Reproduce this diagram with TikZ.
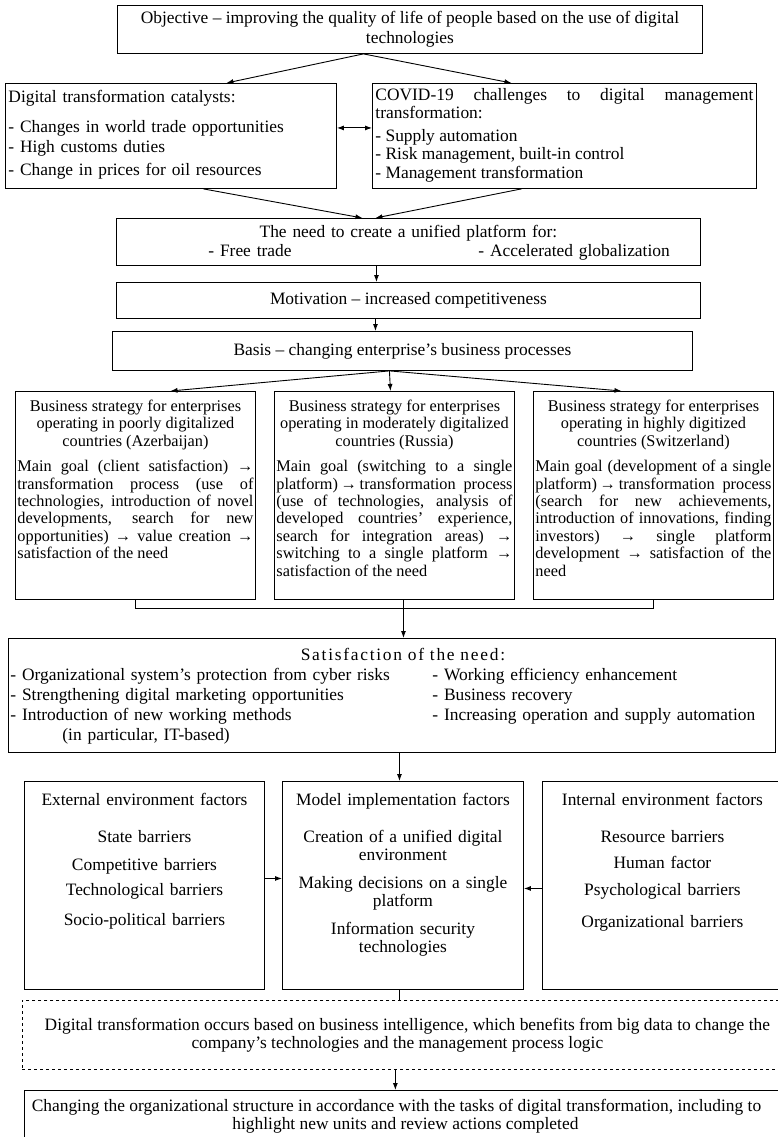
\documentclass[tikz,border=0pt]{standalone}
\usepackage{fontspec}
\setmainfont{Liberation Serif}
\usetikzlibrary{arrows,arrows.meta,positioning,calc}

\begin{document}
\begin{tikzpicture}[x=1pt, y=-1pt, line width=0.9pt, >={Latex[length=7pt,width=5pt]},
font=\fontsize{17.4}{18}\selectfont,
box/.style={rectangle, draw, anchor=north west, inner xsep=4pt, inner ysep=0pt},
flat/.style={box, align=center},
strat/.style={box, inner xsep=2pt, text width=236pt, text height=20pt, text depth=188pt, align=justify, font=\fontsize{16.3}{17.4}\selectfont},
factor/.style={box, text width=232pt, text height=24pt, text depth=184pt, align=center},
line/.style={draw, ->}]

\useasboundingbox (0,0) rectangle (778,1137);

% Nodes
\node[flat, minimum width=585pt, minimum height=48pt] (obj) at (117,5)
  {Objective -- improving the quality of life of people based on the use of digital\\[2pt] technologies};

\node[box, inner xsep=3pt, text width=325pt, text height=19pt, text depth=86pt, align=left] (cat) at (5,83)
  {Digital transformation catalysts:\\[12pt]
   - Changes in world trade opportunities\\[2pt]
   - High customs duties\\[5pt]
   - Change in prices for oil resources};

\node[box, inner xsep=3pt, text width=378pt, text height=17pt, text depth=88pt, align=justify] (cov) at (372,83)
  {COVID-19 challenges to digital management\linebreak transformation:\par\vspace{5pt}
   - Supply automation\\
   - Risk management, built-in control\\[1pt]
   - Management transformation};

\node[box, text width=576pt, text height=19pt, text depth=28pt, align=center] (need) at (116,218)
  {The need to create a unified platform for:\\[1pt]
   \makebox[\linewidth][l]{\hspace{88pt}\makebox[270pt][l]{- Free trade}- Accelerated globalization}};

\node[flat, minimum width=584pt, minimum height=36pt] (mot) at (116,282)
  {Motivation -- increased competitiveness};

\node[flat, minimum width=580pt, minimum height=39pt] (bas) at (112,331)
  {Basis -- changing enterprise's business processes};

\node[strat] (poor) at (15,391)
  {{\centering Business strategy for enterprises\\ operating in poorly digitalized\\ countries (Azerbaijan)\par}\vspace{8pt}
   Main goal (client satisfaction) →\linebreak transformation process (use of\linebreak technologies, introduction of novel\linebreak developments, search for new\linebreak opportunities) → value creation →\linebreak satisfaction of the need};

\node[strat] (mid) at (274,391)
  {{\centering Business strategy for enterprises\\ operating in moderately digitalized\\ countries (Russia)\par}\vspace{8pt}
   Main goal (switching to a single\linebreak platform)\,→\,transformation process\linebreak (use of technologies, analysis of\linebreak developed countries' experience,\linebreak search for integration areas) →\linebreak switching to a single platform →\linebreak satisfaction of the need};

\node[strat] (high) at (533,391)
  {{\centering Business strategy for enterprises\\ operating in highly digitized\\ countries (Switzerland)\par}\vspace{8pt}
   Main goal (development of a single\linebreak platform)\,→\,transformation process\linebreak (search for new achievements,\linebreak introduction of innovations, finding\linebreak investors) → single platform\linebreak development → satisfaction of the\linebreak need};

\node[box, inner xsep=2pt, text width=763pt, text height=22pt, text depth=92pt, align=left] (sat) at (8,638)
  {\makebox[\linewidth]{\hspace{22pt}\addfontfeature{LetterSpace=10}Satisfaction of the need:}\\[2pt]
   \makebox[422pt][l]{- Organizational system's protection from cyber risks}- Working efficiency enhancement\\[2pt]
   \makebox[422pt][l]{- Strengthening digital marketing opportunities}- Business recovery\\[2pt]
   \makebox[422pt][l]{- Introduction of new working methods}- Increasing operation and supply automation\\[2pt]
   \hspace*{52pt}(in particular, IT-based)};

\node[factor] (ext) at (24,781)
  {External environment factors\\[19pt]
   State barriers\\[10pt]
   Competitive barriers\\[7pt]
   Technological barriers\\[12pt]
   Socio-political barriers};

\node[factor, text width=233pt] (mod) at (282,781)
  {Model implementation factors\\[19pt]
   Creation of a unified digital\\ environment\\[10pt]
   Making decisions on a single\\ platform\\[10pt]
   Information security\\ technologies};

\node[factor] (int) at (542,781)
  {Internal environment factors\\[19pt]
   Resource barriers\\[8pt]
   Human factor\\[9pt]
   Psychological barriers\\[14pt]
   Organizational barriers};

\node[flat, dashed, line width=0.7pt, minimum width=770pt, minimum height=69pt] (bi) at (22,1000)
  {Digital transformation occurs based on business intelligence, which benefits from big data to change the\\
   \hspace*{-20pt}company's technologies and the management process logic};

\node[flat, minimum width=770pt, minimum height=52pt] (last) at (24,1090)
  {\hspace*{-26pt}Changing the organizational structure in accordance with the tasks of digital transformation, including to\\
   \hspace*{-8pt}highlight new units and review actions completed};

% Paths
\path[line] ([xshift=-46.5pt]obj.south) -- ([xshift=55.5pt]cat.north);
\path[line] ([xshift=-46.5pt]obj.south) -- ([xshift=-53pt]cov.north);
\draw[<->] ([yshift=8pt]cat.east) -- ([yshift=8pt]cov.west);
\path[line] ([xshift=32.5pt]cat.south) -- ([xshift=-46pt]need.north);
\path[line] ([xshift=-43pt]cov.south) -- ([xshift=-33pt]need.north);
\path[line] ([xshift=-32pt]need.south) -- ([xshift=-32pt]mot.north);
\path[line] ([xshift=-33pt]mot.south) -- ([xshift=-27pt]bas.north);
\path[line] ([xshift=-13pt]bas.south) -- ([xshift=35pt]poor.north);
\path[line] ([xshift=-13pt]bas.south) -- ([xshift=-4pt]mid.north);
\path[line] ([xshift=-13pt]bas.south) -- ([xshift=-32pt]high.north);

% Bracket under the strategies
\draw (poor.south) -- ++(0,9) -| (high.south);
\path[line] ([xshift=9pt]mid.south) -- ([xshift=9pt]mid.south |- sat.north);

\path[line] ([xshift=7.5pt]sat.south) -- ([xshift=7.5pt]sat.south |- mod.north);
\path[line] ([yshift=7pt]ext.east) -- ([yshift=7pt]ext.east -| mod.west);
\path[line] ([yshift=-3pt]int.west) -- ([yshift=-3pt]int.west -| mod.east);
\draw ([xshift=-3.5pt]mod.south) -- ([xshift=-3.5pt]mod.south |- bi.north);
\path[line] ([xshift=-12pt]bi.south) -- ([xshift=-12pt]bi.south |- last.north);
\end{tikzpicture}
\end{document}
